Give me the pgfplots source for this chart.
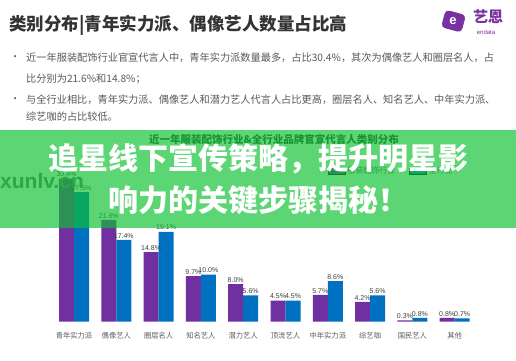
\documentclass[border=0pt]{standalone}
\usepackage{fontspec}
\setmainfont{Noto Sans CJK SC}
\setsansfont{Liberation Sans}
\usepackage{pgfplots}
\pgfplotsset{compat=1.18}
\definecolor{cpurple}{RGB}{112,48,160}
\definecolor{cblue}{RGB}{0,112,192}
\definecolor{banner}{RGB}{13,194,49}
\definecolor{txt}{RGB}{89,89,89}
\definecolor{ttl}{RGB}{51,51,51}
\definecolor{logo}{RGB}{120,50,160}

\pgfplotstableread{
x apparel all
0 30.4 27.5
1 21.6 17.4
2 14.8 19.1
3 9.7 10.0
4 8.0 5.6
5 4.5 4.5
6 5.7 8.6
7 4.2 5.6
8 0.3 0.8
9 0.8 0.7
}\datatable

\begin{document}
\begin{tikzpicture}[x=1pt,y=1pt]
\useasboundingbox (0,0) rectangle (516,-360);
\fill[white] (0,0) rectangle (516,-360);
% title
\node[anchor=west, inner sep=0, text=ttl, font=\fontsize{17.5}{20}\selectfont\bfseries] at (9,-25) {类别分布|青年实力派、偶像艺人数量占比高};
% logo
\fill[logo, rounded corners=4pt, rotate around={-15:(453,-21)}] (443,-12) rectangle (464,-30);
\node[text=white, font=\fontsize{13}{13}\selectfont\bfseries\sffamily] at (453,-21) {e};
\node[text=logo, font=\fontsize{15}{16}\selectfont\bfseries, inner sep=0] at (488,-17) {艺恩};
\node[text=logo, font=\fontsize{6}{7}\selectfont\sffamily, inner sep=0] at (486,-32) {endata};
% bullets
\begin{scope}[every node/.style={anchor=west, inner sep=0, text=txt, font=\fontsize{10.2}{12}\selectfont}]
\node at (10,-58) {•};
\node at (26,-58) {近一年服装配饰行业官宣代言人中，青年实力派数量最多，占比30.4\%，其次为偶像艺人和圈层名人，占};
\node at (26,-79) {比分别为21.6\%和14.8\%；};
\node at (10,-100) {•};
\node at (26,-100) {与全行业相比，青年实力派、偶像艺人和潜力艺人代言人占比更高，圈层名人、知名艺人、中年实力派、};
\node at (26,-117) {综艺咖的占比较低。};
\end{scope}
% chart title
\node[text=ttl, font=\fontsize{10.5}{12}\selectfont\bfseries, inner sep=0] at (274,-140) {近一年服装配饰行业\&全行业品牌官宣代言人类别分布};
\begin{axis}[at={(52.85pt,-321.7pt)}, anchor=south west, scale only axis,
  width=423pt, height=150.7pt, xmin=-0.5, xmax=9.5, ymin=0, ymax=32,
  ybar=0pt, bar width=15pt,
  axis line style={draw=none}, tick style={draw=none}, ytick=\empty,
  xtick={0,...,9},
  xticklabels={青年实力派,偶像艺人,圈层名人,知名艺人,潜力艺人,顶流艺人,中年实力派,综艺咖,国民艺人,其他},
  xticklabel style={font=\fontsize{7.3}{8}\selectfont, text=txt, yshift=-3pt},
  nodes near coords={\pgfmathprintnumber[fixed,fixed zerofill,precision=1,assume math mode=true]{\pgfplotspointmeta}\%},
  every node near coord/.append style={font=\fontsize{7}{8}\selectfont\sffamily, text=black!75, inner sep=1.5pt},
  legend style={at={(0.8,1.0)}, anchor=center, draw=none, fill=none, font=\fontsize{8}{9}\selectfont, text=txt, /tikz/every even column/.append style={column sep=12pt}},
  legend columns=2, area legend,
  clip=false]
\addplot[fill=cpurple, draw=none] table[x=x,y=apparel]{\datatable};
\addplot[fill=cblue, draw=none] table[x=x,y=all]{\datatable};
\legend{服装配饰行业,全行业}
\end{axis}
% watermark
\node[anchor=west, inner sep=0, text=black!55, font=\fontsize{21}{22}\selectfont\bfseries\sffamily] at (0,-181) {xunlv.cn};
% banner
\fill[banner, fill opacity=0.67] (0,-130) rectangle (516,-228);
\node[text=white, font=\fontsize{30}{32}\selectfont\bfseries, inner sep=0] at (258,-159) {追星线下宣传策略，提升明星影};
\node[text=white, font=\fontsize{30}{32}\selectfont\bfseries, inner sep=0] at (258,-200) {响力的关键步骤揭秘！};
\end{tikzpicture}
\end{document}
